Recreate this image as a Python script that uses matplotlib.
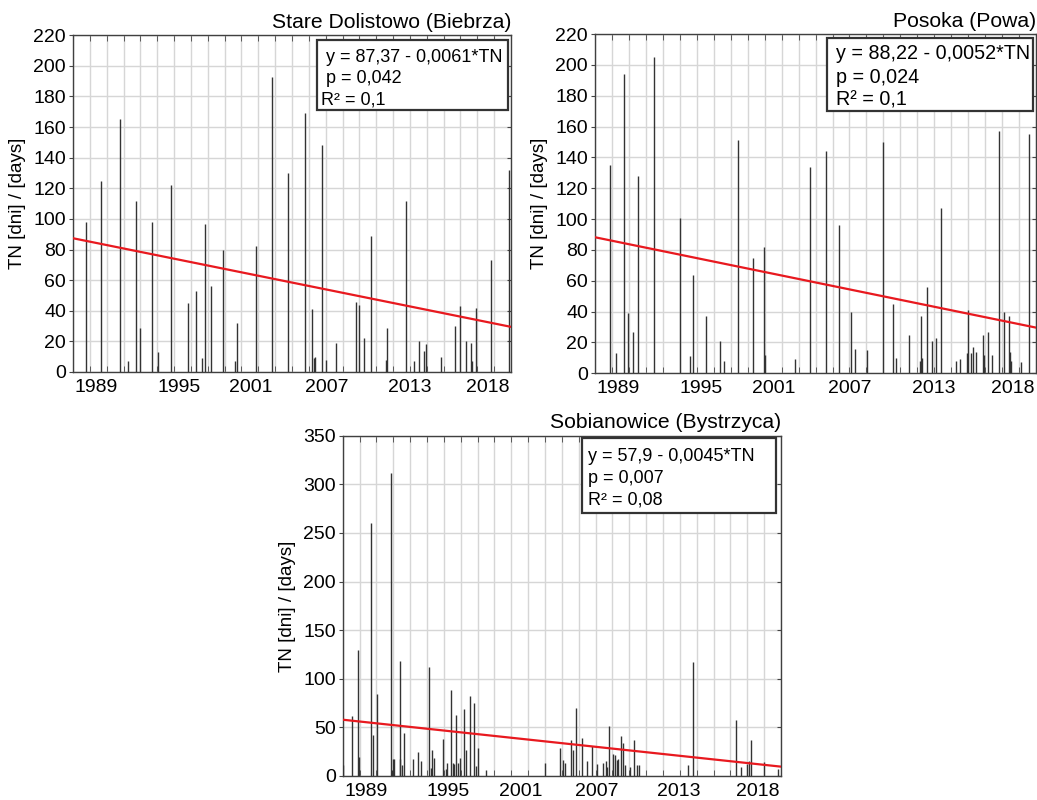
import matplotlib
matplotlib.use('Agg')
import matplotlib.pyplot as plt
import matplotlib.patches as mpatches
import numpy as np

plt.rcParams['font.family'] = ['Liberation Sans', 'DejaVu Sans']

# Stare Dolistowo (Biebrza): dates (decimal year) and TN [days]
sd_years = [1988.5, 1989.6, 1991.0, 1991.56, 1992.2, 1992.45, 1993.34, 1993.83, 1994.8,
            1996.0, 1996.6, 1997.1, 1997.3, 1997.76, 1998.65, 1999.5, 1999.7, 2001.06,
            2002.25, 2003.45, 2004.7, 2005.2, 2005.35, 2005.45, 2006.0, 2006.3, 2007.0,
            2008.5, 2008.7, 2009.1, 2009.64, 2010.75, 2010.8, 2012.23, 2012.78, 2013.2,
            2013.57, 2013.72, 2014.78, 2015.85, 2016.24, 2016.66, 2017.05, 2017.12,
            2017.38, 2018.5, 2019.85]
sd_days = [98, 125, 165, 7, 112, 29, 98, 13, 122,
           45, 53, 9, 97, 56, 80, 7, 32, 82,
           193, 130, 169, 41, 9, 10, 148, 8, 19,
           46, 44, 22, 89, 8, 29, 112, 7, 20,
           14, 18, 10, 30, 43, 20, 19, 7,
           42, 73, 132]

# Posoka (Powa)
po_years = [1988.58, 1989.07, 1989.64, 1989.95, 1990.3, 1990.69, 1991.85, 1993.76, 1994.5,
            1994.72, 1995.66, 1996.73, 1997.0, 1998.06, 1999.17, 1999.98, 2000.05, 2002.24,
            2003.37, 2004.55, 2005.5, 2006.39, 2006.66, 2007.55, 2008.72, 2009.44, 2009.66,
            2010.64, 2011.43, 2011.53, 2011.6, 2011.94, 2012.33, 2012.63, 2013.02, 2014.12,
            2014.42, 2014.89, 2015.01, 2015.19, 2015.33, 2015.6, 2016.12, 2016.19, 2016.46,
            2016.78, 2017.27, 2017.66, 2017.99, 2018.06, 2018.16, 2018.91, 2019.46]
po_days = [135, 13, 194, 39, 27, 128, 205, 101, 11,
           64, 37, 21, 8, 151, 75, 82, 12, 9,
           134, 144, 96, 40, 16, 15, 150, 45, 10,
           25, 8, 37, 10, 56, 21, 23, 107, 8,
           9, 13, 41, 13, 17, 14, 25, 12, 27,
           12, 157, 40, 37, 14, 8, 7, 155]

# Sobianowice (Bystrzyca)
sb_years = [1987.54, 1988.17, 1988.61, 1988.73, 1989.6, 1989.77, 1990.02, 1991.06, 1991.15,
            1991.23, 1991.33, 1991.73, 1991.77, 1991.92, 1992.02, 1992.73, 1993.1, 1993.28,
            1993.92, 1994.02, 1994.14, 1994.27, 1994.91, 1995.16, 1995.25, 1995.51, 1995.65,
            1995.77, 1995.9, 1996.02, 1996.17, 1996.49, 1996.62, 1996.96, 1997.21, 1997.4,
            1997.55, 1998.14, 2002.52, 2003.61, 2003.81, 2003.98, 2004.45, 2004.55, 2004.82,
            2005.24, 2005.63, 2006.0, 2006.37, 2006.77, 2006.99, 2007.07, 2007.26, 2007.56,
            2007.69, 2007.83, 2007.93, 2008.11, 2008.3, 2008.43, 2008.8, 2009.12, 2009.29,
            2009.46, 2013.12, 2013.49, 2016.65, 2017.0, 2017.49, 2017.62, 2017.79, 2018.75,
            2019.77]
sb_days = [11, 62, 130, 20, 260, 42, 84, 312, 6,
           17, 17, 118, 17, 11, 44, 17, 25, 15,
           112, 8, 27, 18, 38, 7, 13, 88, 13,
           12, 63, 13, 18, 69, 27, 82, 75, 10,
           29, 6, 13, 29, 16, 13, 37, 27, 70,
           39, 15, 31, 12, 13, 15, 9, 51, 23,
           22, 16, 17, 41, 34, 11, 9, 37, 11,
           11, 11, 117, 58, 9, 12, 15, 37, 14,
           7]

# regression y = a - b*TN, TN counted along the axis up to tn_span at the right edge
titles = ['Stare Dolistowo (Biebrza)', 'Posoka (Powa)', 'Sobianowice (Bystrzyca)']
intercepts = [87.37, 88.22, 57.9]
slopes = [0.0061, 0.0052, 0.0045]
tn_span = [9490, 11270, 10730]
p_values = ['0,042', '0,024', '0,007']
r2_values = ['0,1', '0,1', '0,08']

year_labels = ['1989', '1995', '2001', '2007', '2013', '2018']
year_ticks = [1989.2, 1995.35, 2000.7, 2006.3, 2012.45, 2018.3]
x0, x1 = 1987.5, 2020.0

fig = plt.figure(figsize=(10.37, 8), dpi=100)

# axes placement [left, bottom, width, height]
rects = [[0.0704, 0.535, 0.4224, 0.421],
         [0.5738, 0.5334, 0.4253, 0.424],
         [0.3305, 0.030, 0.4227, 0.4254]]
ymax = [220, 220, 350]
ystep = [20, 20, 50]
# text box: x0, x1, y0, y1, text x, line y's, leading spaces, font size
boxes = [(0.557, 0.993, 0.777, 0.985, 0.567, [0.935, 0.872, 0.807], ' ', 13),
         (0.526, 0.993, 0.773, 0.988, 0.546, [0.944, 0.873, 0.805], '', 14.2),
         (0.545, 0.988, 0.773, 0.993, 0.560, [0.938, 0.875, 0.811], '', 13)]

data = [(sd_years, sd_days), (po_years, po_days), (sb_years, sb_days)]

for i in range(3):
    ax = fig.add_axes(rects[i])
    yrs, days = data[i]

    ax.vlines(yrs, 0, days, color='#333333', lw=1.0, zorder=3)

    # trend line
    x = np.array([x0, x1])
    tn = (x - x0) / (x1 - x0) * tn_span[i]
    ax.plot(x, intercepts[i] - slopes[i] * tn, color='#e8191f', lw=1.6, zorder=4)

    ax.set_xlim(x0, x1)
    ax.set_ylim(0, ymax[i])
    ax.set_yticks(np.arange(0, ymax[i] + 1, ystep[i]))
    ax.set_xticks(year_ticks)
    ax.set_xticklabels(year_labels)
    ax.set_xticks(np.arange(x0, x1 + 0.01, 1.25), minor=True)

    ax.grid(which='minor', axis='x', color='#d6d6d6', lw=1.0, zorder=0)
    ax.grid(which='major', axis='y', color='#d6d6d6', lw=1.0, zorder=0)
    ax.set_axisbelow(True)

    ax.tick_params(axis='x', which='major', length=0, pad=5, labelsize=14)
    ax.tick_params(axis='x', which='minor', direction='in', length=4, top=True,
                   color='#444444')
    ax.tick_params(axis='y', which='major', direction='out', length=3, labelsize=14,
                   pad=2, color='#444444')
    ax.tick_params(axis='y', which='major', right=True)
    for t in ax.yaxis.get_ticklines()[1::2]:
        t.set_marker(0)
    for s in ax.spines.values():
        s.set_color('#404040')
        s.set_linewidth(1.0)

    ax.set_ylabel('TN [dni] / [days]', fontsize=13.5, labelpad=5)
    ax.text(1.0, 1.01, titles[i], transform=ax.transAxes, ha='right', va='bottom',
            fontsize=15.2)

    bx0, bx1, by0, by1, tx, ly, sp, fs = boxes[i]
    ax.add_patch(mpatches.Rectangle((bx0, by0), bx1 - bx0, by1 - by0,
                                    transform=ax.transAxes, facecolor='white',
                                    edgecolor='#333333', lw=1.6, zorder=5))
    eq = 'y = %s - %s*TN' % (('%.2f' % intercepts[i]).rstrip('0').rstrip('.').replace('.', ','),
                             ('%.4f' % slopes[i]).replace('.', ','))
    lines = [sp + eq, sp + 'p = ' + p_values[i], 'R\u00b2 = ' + r2_values[i]]
    for k in range(3):
        ax.text(tx, ly[k], lines[k], transform=ax.transAxes, ha='left', va='center',
                fontsize=fs, zorder=6)

fig.savefig('out.png', dpi=100)
